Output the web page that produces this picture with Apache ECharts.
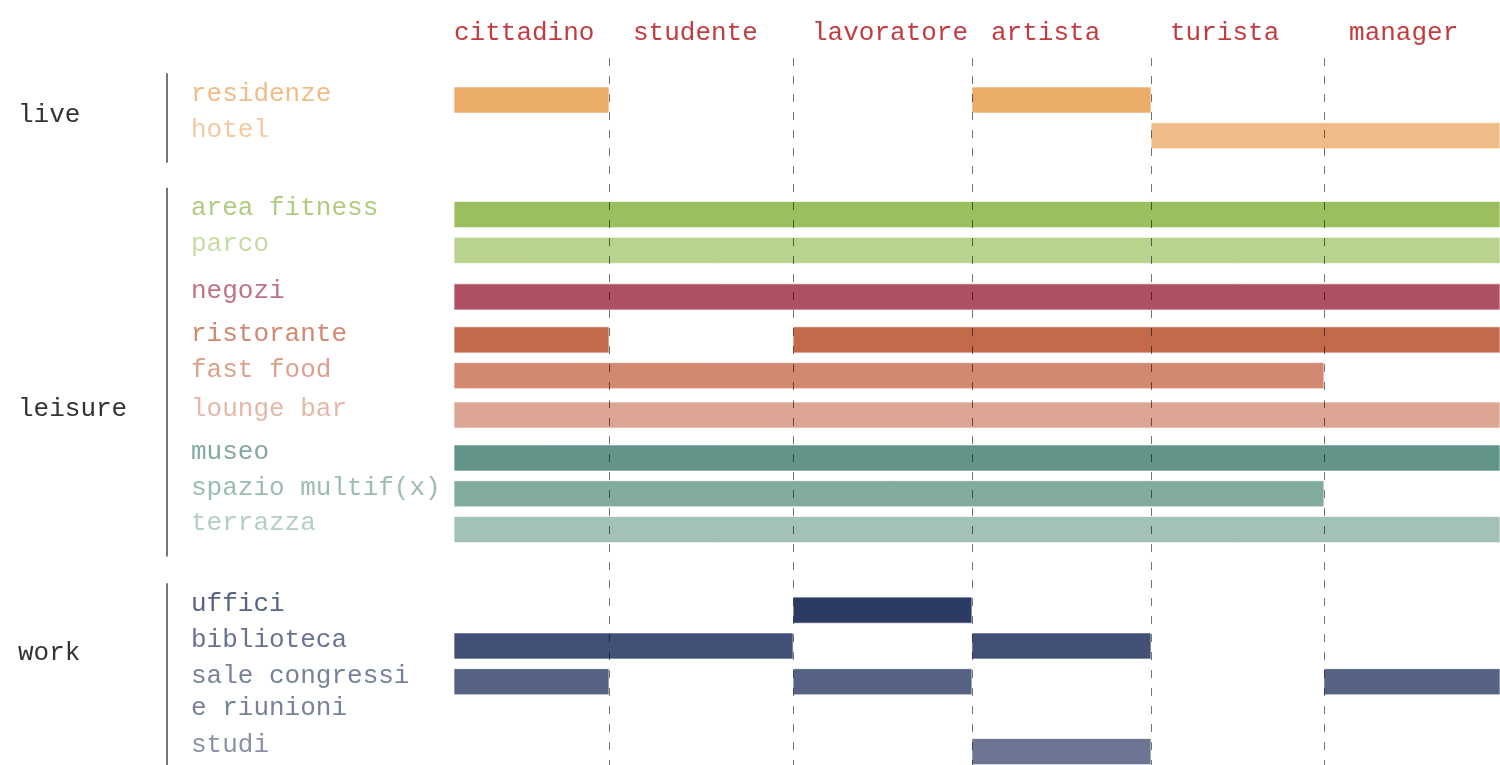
<!DOCTYPE html>
<html>
<head>
<meta charset="utf-8">
<script src="https://cdn.jsdelivr.net/npm/echarts@6/dist/echarts.min.js"></script>
<style>
  html, body { margin: 0; padding: 0; background: #fff; }
  #chart { width: 1500px; height: 765px; }
</style>
</head>
<body>
<div id="chart"></div>
<script>
// user types (columns)
const users = ['cittadino', 'studente', 'lavoratore', 'artista', 'turista', 'manager']
// function groups
const groups = ['live', 'leisure', 'work']
// functions (rows)
const functions = ['residenze', 'hotel', 'area fitness', 'parco', 'negozi', 'ristorante', 'fast food',
  'lounge bar', 'museo', 'spazio multif(x)', 'terrazza', 'uffici', 'biblioteca',
  'sale congressi\ne riunioni', 'studi']
const functionGroup = [0, 0, 1, 1, 1, 1, 1, 1, 1, 1, 1, 2, 2, 2, 2]
// 1 = function used by that user type (order of users)
const usage = [
  [1, 0, 0, 1, 0, 0],
  [0, 0, 0, 0, 1, 1],
  [1, 1, 1, 1, 1, 1],
  [1, 1, 1, 1, 1, 1],
  [1, 1, 1, 1, 1, 1],
  [1, 0, 1, 1, 1, 1],
  [1, 1, 1, 1, 1, 0],
  [1, 1, 1, 1, 1, 1],
  [1, 1, 1, 1, 1, 1],
  [1, 1, 1, 1, 1, 0],
  [1, 1, 1, 1, 1, 1],
  [0, 0, 1, 0, 0, 0],
  [1, 1, 0, 1, 0, 0],
  [1, 0, 1, 0, 0, 1],
  [0, 0, 0, 1, 0, 0]
]

// layout / style
const colEdges = [0, 0.889, 1.945, 2.971, 3.998, 4.99, 6]
const headerStep = 1.0268
const rowSlot = [0, 1, 3.2, 4.2, 5.5, 6.7, 7.7, 8.8, 10, 11, 12, 14.25, 15.25, 16.25, 18.2]
const groupLabelSlot = [0.42, 8.63, 15.45]
const barColors = ['#ebab69', '#efbc88', '#9bbf5e', '#b8d38e', '#ad5062', '#c46a4c', '#d38870',
  '#dda593', '#62948a', '#82aba0', '#a3c1b9', '#2c3b63', '#424f76', '#556283', '#6d7592']
const textFont = { fontFamily: '"Liberation Mono", "Courier New", monospace', fontSize: 26 }

// turn each row's usage into contiguous bar runs
const bars = []
usage.forEach((row, r) => {
  let start = -1
  for (let c = 0; c <= row.length; c++) {
    if (c < row.length && row[c]) {
      if (start < 0) start = c
    } else if (start >= 0) {
      bars.push([colEdges[start], colEdges[c], rowSlot[r], r])
      start = -1
    }
  }
})

const chart = echarts.init(document.getElementById('chart'))
const option = {
  animation: false,
  grid: { left: 454, right: 0, top: 28.4, bottom: 2.7 },
  xAxis: { type: 'value', min: 0, max: 6, show: false },
  yAxis: { type: 'value', min: -2, max: 18.5, inverse: true, show: false },
  series: [
    {
      type: 'custom',
      z: 2,
      data: bars,
      encode: { x: [0, 1], y: 2 },
      renderItem: function (params, api) {
        const p0 = api.coord([api.value(0), api.value(2)])
        const p1 = api.coord([api.value(1), api.value(2)])
        const h = api.size([0, 0.73])[1]
        return {
          type: 'rect',
          shape: { x: p0[0], y: p0[1] - h / 2, width: p1[0] - p0[0], height: h },
          style: { fill: barColors[api.value(3)], stroke: 'rgba(255,255,255,0.7)', lineWidth: 1 }
        }
      }
    },
    {
      // dashed column separators
      type: 'custom',
      z: 3,
      data: colEdges.slice(1, -1).map(e => [e]),
      renderItem: function (params, api) {
        const a = api.coord([api.value(0), -1.17])
        const b = api.coord([api.value(0), 18.6])
        return {
          type: 'line',
          shape: { x1: Math.round(a[0]) + 0.5, y1: a[1], x2: Math.round(b[0]) + 0.5, y2: b[1] },
          style: { stroke: 'rgba(0,0,0,0.55)', lineWidth: 1, lineDash: [8, 10] }
        }
      }
    },
    {
      // column headers
      type: 'custom',
      z: 4,
      data: users.map((u, i) => [i * headerStep, i]),
      renderItem: function (params, api) {
        const p = api.coord([api.value(0), -1.88])
        return {
          type: 'text',
          style: Object.assign({
            x: p[0], y: p[1], text: users[api.value(1)],
            fill: '#c23b3f', align: 'left', verticalAlign: 'middle'
          }, textFont)
        }
      }
    },
    {
      // row labels
      type: 'custom',
      z: 4,
      data: functions.map((f, i) => [0, rowSlot[i], i]),
      renderItem: function (params, api) {
        const p = api.coord([0, api.value(1)])
        const i = api.value(2)
        return {
          type: 'text',
          style: Object.assign({
            x: 191, y: p[1] - 22, text: functions[i],
            fill: barColors[i], opacity: 0.8, lineHeight: 32,
            align: 'left', verticalAlign: 'top'
          }, textFont)
        }
      }
    },
    {
      // group labels and brackets
      type: 'custom',
      z: 4,
      data: groups.map((g, i) => [0, groupLabelSlot[i], i]),
      renderItem: function (params, api) {
        const g = api.value(2)
        const rows = rowSlot.filter((s, i) => functionGroup[i] === g)
        const p = api.coord([0, api.value(1)])
        const top = api.coord([0, rows[0] - 0.75])
        const bottom = api.coord([0, rows[rows.length - 1] + 0.75])
        return {
          type: 'group',
          children: [
            {
              type: 'text',
              style: Object.assign({
                x: 18, y: p[1], text: groups[g], fill: '#333',
                align: 'left', verticalAlign: 'middle'
              }, textFont)
            },
            {
              type: 'line',
              shape: { x1: 167, y1: top[1], x2: 167, y2: bottom[1] },
              style: { stroke: '#777', lineWidth: 2 }
            }
          ]
        }
      }
    }
  ]
}
chart.setOption(option)
</script>
</body>
</html>
